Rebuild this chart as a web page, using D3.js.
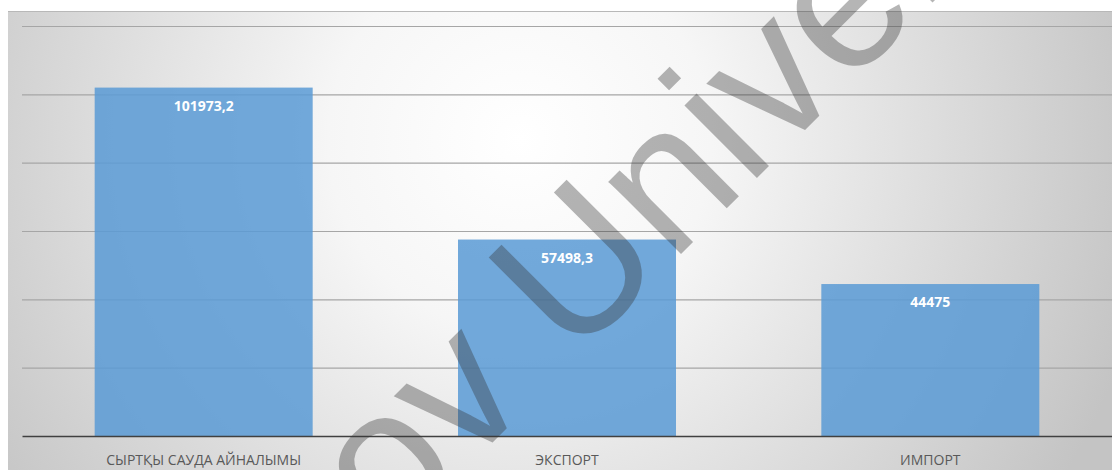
<!DOCTYPE html>
<html>
<head>
<meta charset="utf-8">
<script src="https://cdn.jsdelivr.net/npm/d3@7"></script>
<style>
  html, body { margin: 0; padding: 0; background: #fff; }
  svg { display: block; }
</style>
</head>
<body>
<div id="chart"></div>
<script>
const categories = ['СЫРТҚЫ САУДА АЙНАЛЫМЫ', 'ЭКСПОРТ', 'ИМПОРТ'];
const values = [101973.2, 57498.3, 44475];
const gridTicks = [20000, 40000, 60000, 80000, 100000, 120000];
const watermarkText = 'Baitursynov University';

const width = 1112;
const height = 470;
const plotLeft = 22;
const plotRight = 1112;
const plotTop = 26;
const plotBottom = 436;

function formatValue(v) {
    return String(v).replace('.', ',');
}

function buildChart() {
    const svg = d3.select('#chart')
        .append('svg')
        .attr('width', width)
        .attr('height', height);

    const defs = svg.append('defs');
    const grad = defs.append('radialGradient')
        .attr('id', 'bg')
        .attr('gradientUnits', 'userSpaceOnUse')
        .attr('cx', 520).attr('cy', 140).attr('r', 640);
    grad.append('stop').attr('offset', '0%').attr('stop-color', '#ffffff');
    grad.append('stop').attr('offset', '30%').attr('stop-color', '#f6f6f6');
    grad.append('stop').attr('offset', '100%').attr('stop-color', '#c4c4c4');

    // background panel
    svg.append('rect')
        .attr('x', 8).attr('y', 11)
        .attr('width', width - 8).attr('height', height - 11)
        .attr('fill', 'url(#bg)');
    svg.append('line')
        .attr('x1', 8).attr('x2', width)
        .attr('y1', 11.5).attr('y2', 11.5)
        .attr('stroke', '#b8b8b8').attr('stroke-width', 1);

    const x = d3.scaleBand()
        .domain(categories)
        .range([plotLeft, plotRight])
        .paddingInner(0.4)
        .paddingOuter(0.2);

    const y = d3.scaleLinear()
        .domain([0, 120000])
        .range([plotBottom, plotTop]);

    // gridlines
    const grid = d3.axisLeft(y)
        .tickValues(gridTicks)
        .tickSize(-(plotRight - plotLeft))
        .tickFormat('');
    const gridGroup = svg.append('g')
        .attr('transform', `translate(${plotLeft}, 0)`)
        .call(grid);
    gridGroup.select('.domain').remove();
    gridGroup.selectAll('.tick line')
        .attr('stroke', '#a6a6a6')
        .attr('stroke-width', 1.2);

    // bars
    svg.append('g').selectAll('rect')
        .data(values)
        .enter()
        .append('rect')
        .attr('x', (d, i) => x(categories[i]))
        .attr('y', d => y(d))
        .attr('width', x.bandwidth())
        .attr('height', d => plotBottom - y(d))
        .attr('fill', '#5b9bd5')
        .attr('fill-opacity', 0.86);

    // value labels
    svg.append('g').selectAll('text')
        .data(values)
        .enter()
        .append('text')
        .attr('x', (d, i) => x(categories[i]) + x.bandwidth() / 2)
        .attr('y', d => y(d) + 23)
        .attr('text-anchor', 'middle')
        .attr('fill', '#ffffff')
        .style('font-family', '"Open Sans", "Liberation Sans", sans-serif')
        .style('font-weight', 'bold')
        .style('font-size', '14px')
        .text(d => formatValue(d));

    // x axis
    const xAxis = d3.axisBottom(x).tickSize(0).tickPadding(19);
    const xAxisGroup = svg.append('g')
        .attr('transform', `translate(0, ${plotBottom})`)
        .call(xAxis);
    xAxisGroup.select('.domain')
        .attr('stroke', '#404040')
        .attr('stroke-width', 1.6);
    xAxisGroup.selectAll('.tick text')
        .attr('fill', '#595959')
        .style('font-family', '"Open Sans", "Liberation Sans", sans-serif')
        .style('font-size', '14px');

    // watermark, anchored so the "v" of "...ov" sits near the axis
    const wm = svg.append('text')
        .attr('fill', '#333333')
        .attr('fill-opacity', 0.36)
        .style('font-family', '"Liberation Sans", sans-serif')
        .style('font-size', '180px')
        .text(watermarkText);
    const node = wm.node();
    const v1 = watermarkText.indexOf('v ');
    const v2 = watermarkText.lastIndexOf('v');
    const c1 = node.getSubStringLength(0, v1) + node.getSubStringLength(v1, 1) / 2;
    const c2 = node.getSubStringLength(0, v2) + node.getSubStringLength(v2, 1) / 2;
    const size = 180 * 442 / (c2 - c1);
    wm.style('font-size', size + 'px');
    const off = c1 * size / 180;
    wm.attr('transform', 'translate(500, 435) rotate(-45)')
        .attr('x', -off).attr('y', 0);
}

document.addEventListener('DOMContentLoaded', () => buildChart());
</script>
</body>
</html>
